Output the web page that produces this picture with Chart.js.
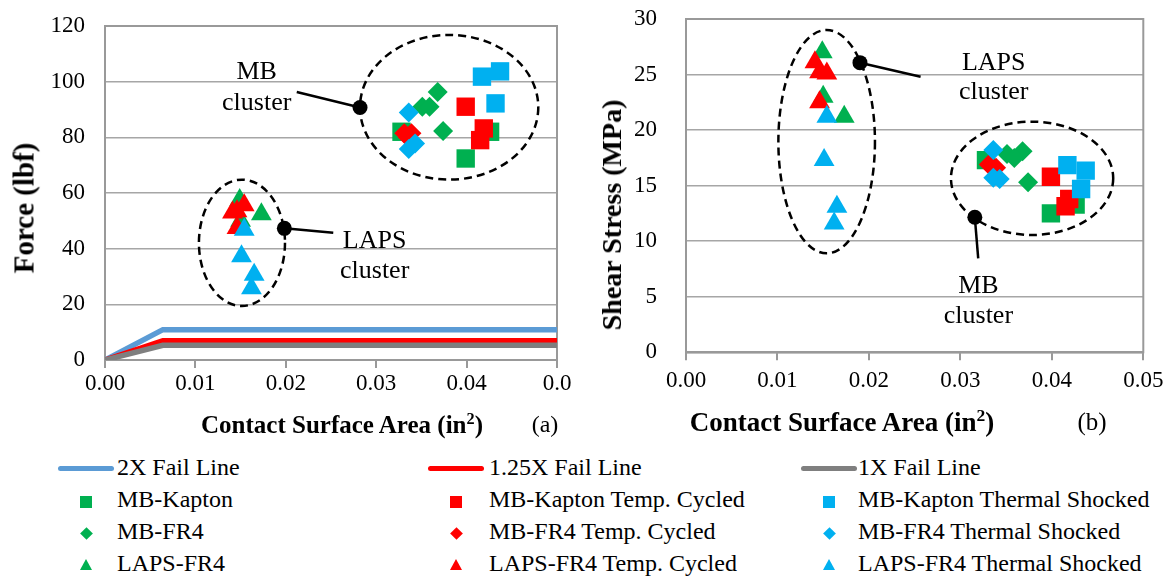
<!DOCTYPE html>
<html>
<head>
    <title>Force and Shear Stress vs Contact Surface Area</title>
    <script src="https://cdn.jsdelivr.net/npm/chart.js@4.4.0/dist/chart.umd.min.js"></script>
    <style>
        body {
            margin: 0;
            background: #fff;
            font-family: "Liberation Serif", "Times New Roman", serif;
            color: #000;
        }
        #wrap {
            position: relative;
            width: 1172px;
            height: 576px;
            overflow: hidden;
        }
        canvas {
            position: absolute;
            top: 0;
        }
        #forceChart { left: 0; }
        #stressChart { left: 580px; }
        .txt {
            position: absolute;
            white-space: nowrap;
            line-height: 1;
        }
        .axis-title { font-weight: bold; }
        .mark { position: absolute; }
    </style>
</head>
<body>
<div id="wrap">
    <canvas id="forceChart" width="580" height="450"></canvas>
    <canvas id="stressChart" width="592" height="450"></canvas>

    <div class="txt axis-title" style="font-size:29px; left:23.5px; top:208px; transform:translate(-50%,-50%) rotate(-90deg);">Force (lbf)</div>
    <div class="txt axis-title" style="font-size:28px; left:612px; top:215px; transform:translate(-50%,-50%) rotate(-90deg);">Shear Stress (MPa)</div>
    <div class="txt axis-title" style="font-size:25px; left:342px; top:412px; transform:translateX(-50%);">Contact Surface Area (in<sup style="font-size:0.65em; line-height:0;">2</sup>)</div>
    <div class="txt" style="font-size:24px; left:545px; top:412px; transform:translateX(-50%);">(a)</div>
    <div class="txt axis-title" style="font-size:27px; left:842px; top:409px; transform:translateX(-50%);">Contact Surface Area (in<sup style="font-size:0.65em; line-height:0;">2</sup>)</div>
    <div class="txt" style="font-size:25px; left:1092px; top:409px; transform:translateX(-50%);">(b)</div>

    <div id="legend"></div>
</div>

<script>
    // series, in Excel order (legend fills row by row, 3 columns)
    const seriesNames = [
        '2X Fail Line', '1.25X Fail Line', '1X Fail Line',
        'MB-Kapton', 'MB-Kapton Temp. Cycled', 'MB-Kapton Thermal Shocked',
        'MB-FR4', 'MB-FR4 Temp. Cycled', 'MB-FR4 Thermal Shocked',
        'LAPS-FR4', 'LAPS-FR4 Temp. Cycled', 'LAPS-FR4 Thermal Shocked'
    ];
    const seriesColors = [
        '#5b9bd5', '#ff0000', '#7f7f7f',
        '#00b050', '#ff0000', '#00b0f0',
        '#00b050', '#ff0000', '#00b0f0',
        '#00b050', '#ff0000', '#00b0f0'
    ];
    const seriesShapes = [
        'line', 'line', 'line',
        'rect', 'rect', 'rect',
        'rectRot', 'rectRot', 'rectRot',
        'triangle', 'triangle', 'triangle'
    ];

    // fail lines (force panel only)
    const failLineArea = [0, 0.0064, 0.05];
    const fail2X = [0, 10.9, 10.9];
    const fail125X = [0, 7.0, 7.0];
    const fail1X = [0, 5.3, 5.3];

    // contact area (in^2), force (lbf), shear stress (MPa)
    const areaMBKapton = [0.0328, 0.0426, 0.0399];
    const forceMBKapton = [82.0, 82.0, 72.4];
    const stressMBKapton = [17.3, 13.3, 12.5];

    const areaMBKaptonTC = [0.0399, 0.0419, 0.0415];
    const forceMBKaptonTC = [91.0, 83.2, 79.0];
    const stressMBKaptonTC = [15.8, 13.8, 13.15];

    const areaMBKaptonTS = [0.0417, 0.0437, 0.0432];
    const forceMBKaptonTS = [101.8, 103.7, 92.2];
    const stressMBKaptonTS = [16.85, 16.35, 14.7];

    const areaMBFR4 = [0.0368, 0.0351, 0.0359, 0.0374];
    const forceMBFR4 = [96.3, 91.0, 91.0, 82.3];
    const stressMBFR4 = [18.1, 17.85, 17.5, 15.3];

    const areaMBFR4TC = [0.0331, 0.0335, 0.0339];
    const forceMBFR4TC = [81.5, 80.0, 81.5];
    const stressMBFR4TC = [16.9, 16.6, 16.6];

    const areaMBFR4TS = [0.0336, 0.0336, 0.0343];
    const forceMBFR4TS = [88.9, 75.8, 77.8];
    const stressMBFR4TS = [18.2, 15.7, 15.6];

    const areaLAPS = [0.0149, 0.0173, 0.0150];
    const forceLAPS = [57.5, 52.4, 50.0];
    const stressLAPS = [27.0, 21.2, 23.0];

    const areaLAPSTC = [0.0141, 0.0154, 0.0146, 0.0146];
    const forceLAPSTC = [53.0, 55.6, 53.4, 47.4];
    const stressLAPSTC = [26.1, 25.1, 25.2, 22.5];

    const areaLAPSTS = [0.0154, 0.0151, 0.0165, 0.0162];
    const forceLAPSTS = [46.8, 37.3, 30.6, 25.8];
    const stressLAPSTS = [21.2, 17.3, 13.1, 11.6];

    // axis ticks
    const xTickValues = [0, 0.01, 0.02, 0.03, 0.04, 0.05];
    const forceXTickLabels = ['0.00', '0.01', '0.02', '0.03', '0.04', '0.0'];
    const stressXTickLabels = ['0.00', '0.01', '0.02', '0.03', '0.04', '0.05'];

    const markerAreas = [areaMBKapton, areaMBKaptonTC, areaMBKaptonTS, areaMBFR4, areaMBFR4TC, areaMBFR4TS, areaLAPS, areaLAPSTC, areaLAPSTS];
    const markerForces = [forceMBKapton, forceMBKaptonTC, forceMBKaptonTS, forceMBFR4, forceMBFR4TC, forceMBFR4TS, forceLAPS, forceLAPSTC, forceLAPSTS];
    const markerStresses = [stressMBKapton, stressMBKaptonTC, stressMBKaptonTS, stressMBFR4, stressMBFR4TC, stressMBFR4TS, stressLAPS, stressLAPSTC, stressLAPSTS];
    const failValues = [fail2X, fail125X, fail1X];

    const serif = '"Liberation Serif", "Times New Roman", serif';
    const gridGrey = '#a6a6a6';
    const axisGrey = '#999999';
    const markerRadius = { rect: 13, rectRot: 10, triangle: 12 };

    Chart.defaults.font.family = serif;
    Chart.defaults.color = '#000';

    function pts(xs, ys) {
        return xs.map((x, i) => ({ x: x, y: ys[i] }));
    }

    function markerSets(yArrays) {
        return yArrays.map((ys, k) => {
            const i = k + 3;
            return {
                label: seriesNames[i],
                data: pts(markerAreas[k], ys),
                pointStyle: seriesShapes[i],
                pointRadius: markerRadius[seriesShapes[i]],
                backgroundColor: seriesColors[i],
                borderWidth: 0,
                order: 12 - i
            };
        });
    }

    const forceSets = failValues.map((ys, i) => ({
        label: seriesNames[i],
        data: pts(failLineArea, ys),
        showLine: true,
        borderColor: seriesColors[i],
        borderWidth: i === 1 ? 5 : 5.5,
        pointRadius: 0,
        order: 12 - i
    })).concat(markerSets(markerForces));

    const stressSets = markerSets(markerStresses);

    // plot frame, dashed cluster ellipses, dots with leader lines and labels
    const clusterNotes = {
        id: 'clusterNotes',
        beforeDatasetsDraw(chart) {
            const a = chart.chartArea, ctx = chart.ctx;
            ctx.save();
            ctx.strokeStyle = axisGrey;
            ctx.lineWidth = 2;
            ctx.strokeRect(a.left, a.top, a.right - a.left, a.bottom - a.top);
            ctx.restore();
        },
        afterDatasetsDraw(chart, args, opts) {
            const ctx = chart.ctx, xs = chart.scales.x, ys = chart.scales.y;
            const px = v => xs.getPixelForValue(v), py = v => ys.getPixelForValue(v);
            ctx.save();
            ctx.strokeStyle = '#000';
            ctx.fillStyle = '#000';
            ctx.lineWidth = 2.5;
            ctx.setLineDash([8, 5]);
            opts.ellipses.forEach(e => {
                const cx = px(e.x), cy = py(e.y);
                ctx.beginPath();
                ctx.ellipse(cx, cy, Math.abs(px(e.x + e.rx) - cx), Math.abs(py(e.y + e.ry) - cy), 0, 0, Math.PI * 2);
                ctx.stroke();
            });
            ctx.setLineDash([]);
            ctx.font = '26px ' + serif;
            ctx.textAlign = 'center';
            ctx.textBaseline = 'alphabetic';
            opts.callouts.forEach(c => {
                ctx.lineWidth = 2.5;
                ctx.beginPath();
                ctx.moveTo(px(c.dot[0]), py(c.dot[1]));
                ctx.lineTo(px(c.end[0]), py(c.end[1]));
                ctx.stroke();
                ctx.beginPath();
                ctx.arc(px(c.dot[0]), py(c.dot[1]), 7.5, 0, Math.PI * 2);
                ctx.fill();
                c.lines.forEach((t, j) => ctx.fillText(t, px(c.textX), py(c.textY[j])));
            });
            ctx.restore();
        }
    };

    function makeOptions(cfg) {
        return {
            responsive: false,
            animation: false,
            events: [],
            layout: { padding: { left: 0, right: cfg.right, top: cfg.top, bottom: 0 } },
            plugins: {
                legend: { display: false },
                tooltip: { enabled: false },
                clusterNotes: cfg.notes
            },
            scales: {
                x: {
                    type: 'linear',
                    min: 0,
                    max: 0.05,
                    afterBuildTicks: s => { s.ticks = xTickValues.map(v => ({ value: v })); },
                    afterFit: s => { s.height = cfg.xHeight; },
                    ticks: {
                        font: { size: 23 },
                        color: '#000',
                        padding: cfg.xPad,
                        maxRotation: 0,
                        autoSkip: false,
                        callback: (v, i) => cfg.xLabels[i]
                    },
                    grid: { drawOnChartArea: false, drawTicks: true, tickLength: 8, color: axisGrey, lineWidth: 2 },
                    border: { color: axisGrey, width: 2 }
                },
                y: {
                    min: 0,
                    max: cfg.yMax,
                    afterFit: s => {
                        s.width = cfg.yWidth;
                        // keep the plot top where the layout padding puts it
                        s.paddingTop = 0;
                        s.paddingBottom = 0;
                    },
                    ticks: { stepSize: cfg.yStep, font: { size: 23 }, color: '#000', padding: cfg.yPad },
                    grid: { color: gridGrey, lineWidth: 1.5, drawTicks: false },
                    border: { color: axisGrey, width: 2 }
                }
            }
        };
    }

    new Chart(document.getElementById('forceChart'), {
        type: 'scatter',
        data: { datasets: forceSets },
        plugins: [clusterNotes],
        options: makeOptions({
            right: 23, top: 26, xHeight: 90, yWidth: 105, xPad: 2, yPad: 20,
            yMax: 120, yStep: 20, xLabels: forceXTickLabels,
            notes: {
                ellipses: [
                    { x: 0.03807, y: 90.8, rx: 0.00986, ry: 26.0 },
                    { x: 0.01515, y: 42.1, rx: 0.00476, ry: 22.7 }
                ],
                callouts: [
                    { dot: [0.02821, 90.7], end: [0.02121, 96.3], lines: ['MB', 'cluster'], textX: 0.01678, textY: [100.9, 89.8] },
                    { dot: [0.01984, 47.3], end: [0.02525, 45.7], lines: ['LAPS', 'cluster'], textX: 0.02983, textY: [40.1, 29.3] }
                ]
            }
        })
    });

    new Chart(document.getElementById('stressChart'), {
        type: 'scatter',
        data: { datasets: stressSets },
        plugins: [clusterNotes],
        options: makeOptions({
            right: 28.7, top: 19, xHeight: 97.7, yWidth: 106, xPad: 7, yPad: 29,
            yMax: 30, yStep: 5, xLabels: stressXTickLabels,
            notes: {
                ellipses: [
                    { x: 0.01538, y: 18.96, rx: 0.00528, ry: 10.05 },
                    { x: 0.03784, y: 15.66, rx: 0.00887, ry: 5.1 }
                ],
                callouts: [
                    { dot: [0.01902, 26.07], end: [0.02565, 24.81], lines: ['LAPS', 'cluster'], textX: 0.03364, textY: [25.41, 22.77] },
                    { dot: [0.03158, 12.15], end: [0.03195, 8.46], lines: ['MB', 'cluster'], textX: 0.03197, textY: [5.31, 2.66] }
                ]
            }
        })
    });

    // shared legend, 3 columns x 4 rows
    const legendMarkX = [86, 456, 829];
    const legendTextX = [117, 489, 858];
    const legendMarkY = [468, 501.5, 533.8, 565.3];
    const legendBaseY = [475, 507.3, 539.3, 570.7];
    const legendBox = document.getElementById('legend');

    seriesNames.forEach((name, i) => {
        const row = Math.floor(i / 3), col = i % 3;
        const cx = legendMarkX[col], cy = legendMarkY[row];
        const m = document.createElement('div');
        m.className = 'mark';
        const shape = seriesShapes[i], color = seriesColors[i];
        if (shape === 'line') {
            Object.assign(m.style, { left: (cx - 28) + 'px', top: (cy - 2.5) + 'px', width: '56px', height: '5px', borderRadius: '2.5px', background: color });
        } else if (shape === 'rect') {
            Object.assign(m.style, { left: (cx - 6) + 'px', top: (cy - 6) + 'px', width: '12px', height: '12px', background: color });
        } else if (shape === 'rectRot') {
            Object.assign(m.style, { left: (cx - 4.5) + 'px', top: (cy - 4.5) + 'px', width: '9px', height: '9px', background: color, transform: 'rotate(45deg)' });
        } else {
            Object.assign(m.style, { left: (cx - 6.5) + 'px', top: (cy - 6) + 'px', width: '0', height: '0', borderLeft: '6.5px solid transparent', borderRight: '6.5px solid transparent', borderBottom: '11.5px solid ' + color });
        }
        legendBox.appendChild(m);

        const t = document.createElement('div');
        t.className = 'txt';
        t.textContent = name;
        Object.assign(t.style, { fontSize: '24px', left: legendTextX[col] + 'px', top: (legendBaseY[row] - 20.1) + 'px' });
        legendBox.appendChild(t);
    });
</script>
</body>
</html>
